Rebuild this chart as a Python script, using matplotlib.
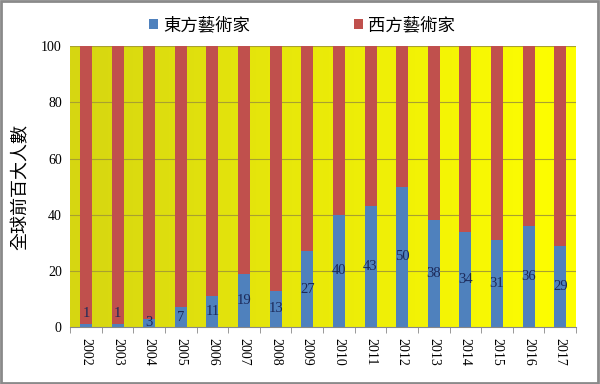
import numpy as np
import matplotlib
matplotlib.use('Agg')
import matplotlib.pyplot as plt
from matplotlib.colors import LinearSegmentedColormap
from matplotlib.patches import Rectangle

plt.rcParams['font.family'] = ['Liberation Serif', 'Noto Sans CJK TC']

years = [str(y) for y in range(2002, 2018)]
east = [1, 1, 3, 7, 11, 19, 13, 27, 40, 43, 50, 38, 34, 31, 36, 29]
west = [100 - v for v in east]
series_names = ['東方藝術家', '西方藝術家']
ylabel = '全球前百大人數'

BLUE = '#4F81BD'
RED = '#C0504D'

fig = plt.figure(figsize=(6, 3.84), dpi=100)
ax = fig.add_axes([0.117, 0.148, 0.843, 0.732])

x = np.arange(len(years))

# yellow gradient plot background
grad = LinearSegmentedColormap.from_list('yel', ['#d6d612', '#ffff00'])
ax.imshow(np.linspace(0, 1, 256).reshape(1, -1), cmap=grad, aspect='auto',
          extent=(-0.5, len(years) - 0.5, 0, 100), zorder=0)

for yv in [20, 40, 60, 80, 100]:
    ax.axhline(yv, color='#a8a030', lw=0.8, zorder=1)

b1 = ax.bar(x, east, width=0.38, color=BLUE, zorder=2, label=series_names[0])
b2 = ax.bar(x, west, width=0.38, bottom=east, color=RED, zorder=2,
            label=series_names[1])

for xi, v in zip(x, east):
    ypos = v / 2 if v >= 2 else 5
    ax.text(xi, ypos, str(v), ha='center', va='center', fontsize=10.5,
            color='#1c2a5a', zorder=3)

ax.set_xlim(-0.5, len(years) - 0.5)
ax.set_ylim(0, 100)
ax.set_yticks([0, 20, 40, 60, 80, 100])
ax.set_xticks(x)
ax.set_xticklabels(years, rotation=-90, fontsize=10)
ax.tick_params(axis='y', length=0, labelsize=10, pad=6)
ax.set_xticks(np.arange(len(years) + 1) - 0.5, minor=True)
ax.tick_params(axis='x', which='minor', length=4, color='#888888')
ax.tick_params(axis='x', which='major', length=0, pad=8)
for s in ['top', 'right', 'left']:
    ax.spines[s].set_visible(False)
ax.spines['bottom'].set_color('#888888')

ax.set_ylabel(ylabel, fontsize=13, family=['Noto Sans CJK TC'], labelpad=8)

fig.legend(handles=[b1, b2], loc='center', bbox_to_anchor=(0.503, 0.935),
           ncol=2, frameon=False, handlelength=0.5,
           handleheight=0.5, columnspacing=6.0, handletextpad=0.3,
           prop={'family': ['Noto Sans CJK TC'], 'size': 12.5})

fig.patches.append(Rectangle((0.002, 0.003), 0.995, 0.994, transform=fig.transFigure,
                             fill=False, edgecolor='#8a8a8a', lw=2))

fig.savefig('out.png', dpi=100, facecolor='white')
